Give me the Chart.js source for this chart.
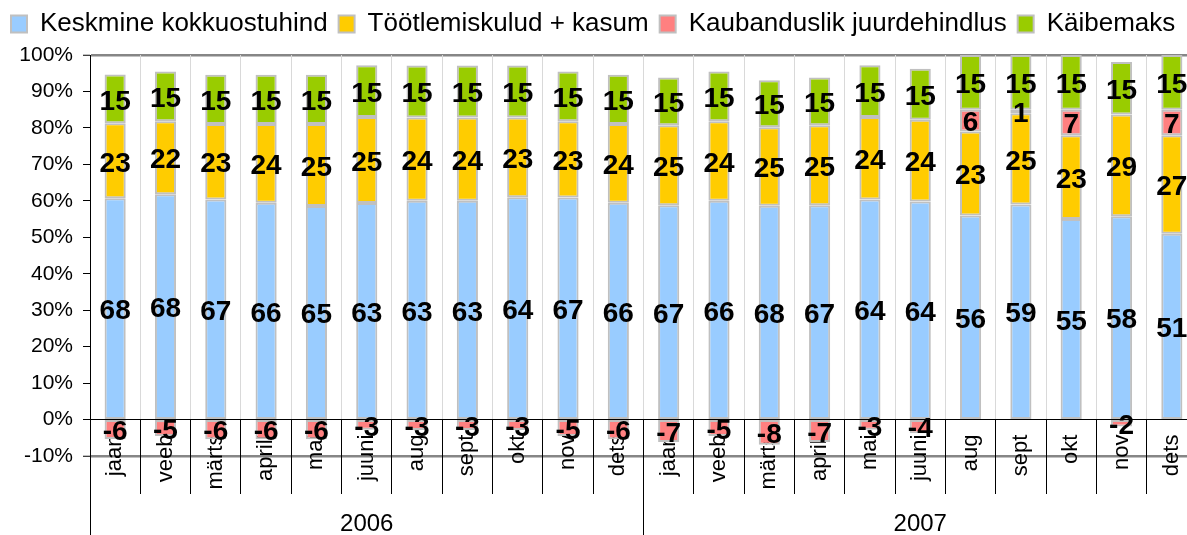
<!DOCTYPE html>
<html>
<head>
<meta charset="utf-8">
<script src="https://cdn.jsdelivr.net/npm/chart.js@4/dist/chart.umd.min.js"></script>
<style>
  html, body { margin: 0; padding: 0; background: #fff; overflow: hidden; }
  #wrap { width: 1198px; height: 535px; }
</style>
</head>
<body>
<div id="wrap"><canvas id="chart"></canvas></div>
<script>
// months shown on the axis, two years
let months = ["jaan", "veeb", "märts", "aprill", "mai", "juuni", "aug", "sept", "okt", "nov", "dets",
              "jaan", "veeb", "märts", "aprill", "mai", "juuni", "aug", "sept", "okt", "nov", "dets"];
let years = ["2006", "2007"];

// values as printed on the bars
let purchasePrice = [68, 68, 67, 66, 65, 63, 63, 63, 64, 67, 66,
                     67, 66, 68, 67, 64, 64, 56, 59, 55, 58, 51];
let processing = [23, 22, 23, 24, 25, 25, 24, 24, 23, 23, 24,
                  25, 24, 25, 25, 24, 24, 23, 25, 23, 29, 27];
let tradeMargin = [-6, -5, -6, -6, -6, -3, -3, -3, -3, -5, -6,
                   -7, -5, -8, -7, -3, -4, 6, 1, 7, -2, 7];
let vat = [15, 15, 15, 15, 15, 15, 15, 15, 15, 15, 15,
           15, 15, 15, 15, 15, 15, 15, 15, 15, 15, 15];

let yTicks = [-10, 0, 10, 20, 30, 40, 50, 60, 70, 80, 90, 100];

// 100% stacked like excel: share of the sum of absolute values
let series = [purchasePrice, processing, tradeMargin, vat];
let totals = months.map((m, i) => series.reduce((s, arr) => s + Math.abs(arr[i]), 0));
const share = arr => arr.map((v, i) => v / totals[i] * 100);

const FONT = "'Liberation Sans', Arial, sans-serif";
Chart.defaults.font.family = FONT;
Chart.defaults.color = '#000';

const valueLabels = {
  id: 'valueLabels',
  afterDatasetsDraw(chart) {
    const ctx = chart.ctx;
    ctx.save();
    ctx.font = 'bold 28px ' + FONT;
    ctx.fillStyle = '#000';
    ctx.textAlign = 'center';
    ctx.textBaseline = 'middle';
    chart.data.datasets.forEach((ds, i) => {
      chart.getDatasetMeta(i).data.forEach((bar, j) => {
        let v = ds.raw[j];
        if (!v) return;
        ctx.fillText(String(v), bar.x, (bar.y + bar.base) / 2 + 3);
      });
    });
    ctx.restore();
  }
};

const legendHeight = {
  id: 'legendHeight',
  beforeLayout(chart) {
    let lg = chart.legend;
    if (lg && !lg._fixed) {
      let fit = lg.fit;
      lg.fit = function () { fit.call(this); this.height = 55; };
      lg._fixed = true;
    }
  }
};

// no extra side padding from the axis labels
const noPad = s => { s.paddingLeft = 0; s.paddingRight = 0; };

function bars(label, raw, color) {
  return {
    label: label,
    raw: raw,
    data: share(raw),
    backgroundColor: color,
    borderColor: '#c0c0c0',
    borderWidth: 2,
    borderSkipped: false,
    barPercentage: 0.42,
    categoryPercentage: 1,
    xAxisID: 'x',
    yAxisID: 'y'
  };
}

new Chart(document.getElementById("chart"), {
  type: 'bar',
  data: {
    labels: months,
    datasets: [
      bars("Keskmine kokkuostuhind", purchasePrice, '#99ccff'),
      bars("Töötlemiskulud + kasum", processing, '#ffcc00'),
      bars("Kaubanduslik juurdehindlus", tradeMargin, '#ff8080'),
      bars("Käibemaks", vat, '#99cc00')
    ]
  },
  options: {
    responsive: true,
    maintainAspectRatio: false,
    animation: false,
    layout: { padding: { top: 0, left: 0, right: 1, bottom: 79 } },
    plugins: {
      tooltip: { enabled: false },
      legend: {
        position: 'top',
        align: 'start',
        labels: {
          font: { size: 26 },
          boxWidth: 16,
          boxHeight: 17,
          padding: 11,
          color: '#000'
        }
      }
    },
    scales: {
      y: {
        stacked: true,
        min: -10,
        max: 100,
        afterFit: s => { s.width = 90; },
        afterBuildTicks: s => { s.ticks = yTicks.map(v => ({ value: v })); },
        ticks: {
          font: { size: 21 },
          padding: 10,
          callback: v => v + '%'
        },
        grid: {
          color: c => (c.tick.value === 100 || c.tick.value === -10) ? '#868686' : 'rgba(0,0,0,0)',
          lineWidth: c => (c.tick.value === 100 || c.tick.value === -10) ? 2.5 : 1,
          tickColor: '#000',
          tickWidth: 1,
          tickLength: 7
        },
        border: { color: '#000', width: 1 }
      },
      x: {
        stacked: true,
        position: { y: 0 },
        offset: true,
        afterFit: noPad,
        ticks: {
          font: { size: 22 },
          maxRotation: 90,
          minRotation: 90,
          autoSkip: false,
          padding: 15
        },
        grid: { display: false, drawTicks: false },
        border: { display: false }
      },
      xSep: {
        type: 'category',
        axis: 'x',
        position: { y: 0 },
        offset: true,
        afterFit: noPad,
        ticks: { display: false },
        grid: {
          offset: true,
          color: '#d9d9d9',
          tickColor: '#000',
          tickWidth: 1,
          tickLength: 74
        },
        border: { color: '#000', width: 1 }
      },
      xYear: {
        type: 'category',
        axis: 'x',
        labels: years,
        position: { y: 0 },
        offset: true,
        afterFit: noPad,
        ticks: { font: { size: 24 }, maxRotation: 0, padding: -26 },
        grid: {
          offset: true,
          drawOnChartArea: false,
          tickColor: '#000',
          tickWidth: 1,
          tickLength: 116
        },
        border: { display: false }
      }
    }
  },
  plugins: [valueLabels, legendHeight]
});
</script>
</body>
</html>
